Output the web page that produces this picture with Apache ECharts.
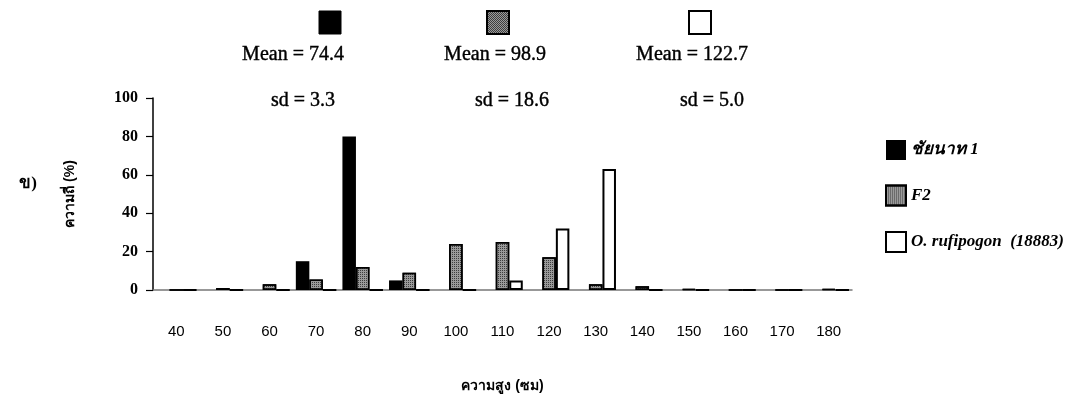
<!DOCTYPE html>
<html>
<head>
<meta charset="utf-8">
<script src="https://cdn.jsdelivr.net/npm/echarts@6/dist/echarts.min.js"></script>
<style>
html,body{margin:0;padding:0;background:#fff;}
#c{width:1066px;height:409px;}
</style>
</head>
<body>
<div id="c"></div>
<script>
const categories = ['40','50','60','70','80','90','100','110','120','130','140','150','160','170','180'];
const seriesNames = ['ชัยนาท 1', 'F2', 'O. rufipogon  (18883)'];
const chainat   = [0, 0, 0, 15, 80, 5, 0, 0, 0, 0, 0, 0, 0, 0, 0];
const f2        = [0, 1, 3, 5.5, 12, 9, 24, 25, 17, 3, 2, 0.5, 0, 0, 0.5];
const rufipogon = [0, 0, 0, 0, 0, 0, 0, 5, 32, 63, 0, 0, 0, 0, 0];
const meanLabels = ['Mean = 74.4', 'Mean = 98.9', 'Mean = 122.7'];
const sdLabels   = ['sd = 3.3', 'sd = 18.6', 'sd = 5.0'];
const yMin = 0, yMax = 100, yStep = 20;

const serif = "'Liberation Serif', 'DejaVu Serif', serif";
const sans = "'Liberation Sans', Arial, sans-serif";

const f2Decal = {
  symbol: 'rect', symbolSize: 1, color: 'rgba(30,30,30,0.75)',
  dashArrayX: [1, 1], dashArrayY: [1, 1], rotation: 0
};

// small checker pattern for the top F2 swatch
const pc = document.createElement('canvas');
pc.width = 2; pc.height = 2;
const pctx = pc.getContext('2d');
pctx.fillStyle = '#9a9a9a'; pctx.fillRect(0, 0, 2, 2);
pctx.fillStyle = 'rgba(30,30,30,0.75)'; pctx.fillRect(0, 0, 1, 1); pctx.fillRect(1, 1, 1, 1);

const chart = echarts.init(document.getElementById('c'), null, {renderer: 'canvas'});

// top stat block positions (decoration, not data marks)
const boxX = [330, 498, 700];
const meanX = [293, 495, 692];
const sdX = [303, 512, 712];
const graphics = [];
const boxStyles = [
  {fill: '#000', stroke: '#000', lineWidth: 1},
  {fill: {image: pc, repeat: 'repeat'}, stroke: '#000', lineWidth: 2},
  {fill: '#fff', stroke: '#000', lineWidth: 2}
];
for (let i = 0; i < 3; i++) {
  graphics.push({
    type: 'rect', shape: {x: boxX[i] - 11, y: 11, width: 22, height: 23},
    style: boxStyles[i]
  });
  graphics.push({
    type: 'text', style: {text: meanLabels[i], x: meanX[i], y: 55, textAlign: 'center', textVerticalAlign: 'middle',
      font: "20px " + serif, fill: '#000', stroke: '#000', lineWidth: 0.4}
  });
  graphics.push({
    type: 'text', style: {text: sdLabels[i], x: sdX[i], y: 101, textAlign: 'center', textVerticalAlign: 'middle',
      font: "20px " + serif, fill: '#000', stroke: '#000', lineWidth: 0.4}
  });
}
graphics.push({
  type: 'text', style: {text: 'ข)', x: 28, y: 184, textAlign: 'center', textVerticalAlign: 'middle',
    font: "bold 17px " + serif, fill: '#000'}
});

chart.setOption({
  animation: false,
  backgroundColor: '#fff',
  graphic: graphics,
  legend: {
    orient: 'vertical', left: 880, top: 135, itemGap: 24.5,
    itemWidth: 20, itemHeight: 20, icon: 'rect',
    textStyle: {fontFamily: serif, fontStyle: 'italic', fontWeight: 'bold', fontSize: 17, color: '#000'},
    data: seriesNames
  },
  grid: {left: 153, right: 214, top: 98, bottom: 119, containLabel: false},
  xAxis: {
    type: 'category', data: categories,
    name: 'ความสูง (ซม)', nameLocation: 'middle', nameGap: 89,
    nameTextStyle: {fontFamily: sans, fontWeight: 'bold', fontSize: 14, color: '#000'},
    axisLine: {lineStyle: {color: '#777', width: 1.5}},
    axisTick: {show: false},
    axisLabel: {margin: 34, fontFamily: sans, fontSize: 15, color: '#000', interval: 0}
  },
  yAxis: {
    type: 'value', min: yMin, max: yMax, interval: yStep,
    name: 'ความถี่ (%)', nameLocation: 'middle', nameGap: 76, nameRotate: 90,
    nameTextStyle: {fontFamily: sans, fontWeight: 'bold', fontSize: 14, color: '#000'},
    axisLine: {show: true, lineStyle: {color: '#000', width: 1.5}},
    axisTick: {show: true, length: 7, lineStyle: {color: '#000', width: 1.2}},
    splitLine: {show: false},
    axisLabel: {margin: 15, fontFamily: serif, fontWeight: 'bold', fontSize: 16, color: '#000'}
  },
  series: [
    {name: seriesNames[0], type: 'bar', data: chainat, barGap: '0%', barCategoryGap: '13%',
     itemStyle: {color: '#000', borderColor: '#000', borderWidth: 0}},
    {name: seriesNames[1], type: 'bar', data: f2, barGap: '0%', barCategoryGap: '13%',
     itemStyle: {color: '#9a9a9a', borderColor: '#000', borderWidth: 1.5, decal: f2Decal}},
    {name: seriesNames[2], type: 'bar', data: rufipogon, barGap: '0%', barCategoryGap: '13%',
     itemStyle: {color: '#fff', borderColor: '#000', borderWidth: 2}}
  ]
});
</script>
</body>
</html>
